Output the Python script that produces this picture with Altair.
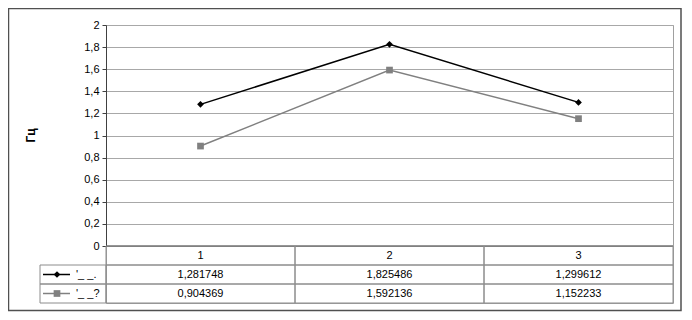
import altair as alt
import pandas as pd

categories = [1, 2, 3]
series_names = ["'_ _.", "'_ _?"]
series1 = [1.281748, 1.825486, 1.299612]
series2 = [0.904369, 1.592136, 1.152233]
series1_labels = ["1,281748", "1,825486", "1,299612"]
series2_labels = ["0,904369", "1,592136", "1,152233"]
y_ticks = [0, 0.2, 0.4, 0.6, 0.8, 1.0, 1.2, 1.4, 1.6, 1.8, 2.0]
y_title = "Гц"
colors = ["#000000", "#808080"]
shapes = ["diamond", "square"]
row_keys = ["hdr", "s1", "s2"]

FONT = "Liberation Sans"

# long data for lines
rows = []
for name, vals in zip(series_names, [series1, series2]):
    for c, v in zip(categories, vals):
        rows.append({"series": name, "cat": c, "value": v})
line_df = pd.DataFrame(rows)

# table cells
cells = []
for c in categories:
    cells.append({"row": "hdr", "x0": c - 0.5, "x1": c + 0.5, "xc": c, "txt": str(c)})
for rk, labels in zip(["s1", "s2"], [series1_labels, series2_labels]):
    for c, t in zip(categories, labels):
        cells.append({"row": rk, "x0": c - 0.5, "x1": c + 0.5, "xc": c, "txt": t})
cell_df = pd.DataFrame(cells)

legend_df = pd.DataFrame({"row": ["s1", "s2"], "series": series_names})

xscale = alt.Scale(domain=[0.5, 3.5], nice=False, zero=False)
yscale = alt.Scale(domain=[0, 2], range=[221, 0], nice=False, zero=False)
rowscale = alt.Scale(domain=row_keys, range=[221, 278], paddingInner=0, paddingOuter=0)
cscale = alt.Scale(domain=series_names, range=colors)
sscale = alt.Scale(domain=series_names, range=shapes)

yaxis = alt.Axis(
    values=y_ticks,
    labelExpr="replace(format(datum.value, '.1~f'), '.', ',')",
    labelOverlap=False,
    title=y_title,
    titleFont=FONT, titleFontSize=12, titleFontWeight="bold", titleColor="#000",
    titleX=-76, titleY=110, titleAlign="center", titleBaseline="middle", titleAngle=270,
    labelFont=FONT, labelFontSize=11, labelColor="#000", labelPadding=3,
    tickSize=4, tickColor="#404040", domainColor="#404040",
    gridColor="#a8a8a8", grid=True,
)

base_line = alt.Chart(line_df).encode(
    x=alt.X("cat:Q", scale=xscale, axis=None),
    y=alt.Y("value:Q", scale=yscale, axis=yaxis),
    color=alt.Color("series:N", scale=cscale, legend=None),
    detail="series:N",
)
zero_rule = alt.Chart(pd.DataFrame({"value": [0]})).mark_rule(
    color="#404040", strokeWidth=1
).encode(y=alt.Y("value:Q", scale=yscale, axis=yaxis))
lines = base_line.mark_line(strokeWidth=1.5)
points = base_line.mark_point(filled=True, opacity=1, size=45).encode(
    shape=alt.Shape("series:N", scale=sscale, legend=None)
)

line_group = alt.layer(zero_rule, lines, points)

cell_rects = alt.Chart(cell_df).mark_rect(
    fill="white", fillOpacity=0, stroke="#8c8c8c", strokeWidth=1
).encode(
    x=alt.X("x0:Q", scale=xscale, axis=None),
    x2="x1:Q",
    y=alt.Y("row:N", scale=rowscale, axis=None),
)
cell_text = alt.Chart(cell_df).mark_text(
    font=FONT, fontSize=11, color="#000", align="center", baseline="middle"
).encode(
    x=alt.X("xc:Q", scale=xscale, axis=None),
    y=alt.Y("row:N", scale=rowscale, axis=None),
    text="txt:N",
)
leg_rects = alt.Chart(legend_df).mark_rect(
    fill="white", fillOpacity=0, stroke="#8c8c8c", strokeWidth=1
).encode(
    x=alt.value(-66), x2=alt.value(0),
    y=alt.Y("row:N", scale=rowscale, axis=None),
)
leg_lines = alt.Chart(legend_df).mark_rule(strokeWidth=1.5).encode(
    x=alt.value(-63), x2=alt.value(-36),
    y=alt.Y("row:N", scale=rowscale, axis=None),
    color=alt.Color("series:N", scale=cscale, legend=None),
)
leg_pts = alt.Chart(legend_df).mark_point(filled=True, opacity=1, size=45).encode(
    x=alt.value(-49),
    y=alt.Y("row:N", scale=rowscale, axis=None),
    color=alt.Color("series:N", scale=cscale, legend=None),
    shape=alt.Shape("series:N", scale=sscale, legend=None),
)
leg_text = alt.Chart(legend_df).mark_text(
    font=FONT, fontSize=11, color="#000", align="left", baseline="middle"
).encode(
    x=alt.value(-30),
    y=alt.Y("row:N", scale=rowscale, axis=None),
    text="series:N",
)
table_group = alt.layer(cell_rects, cell_text, leg_rects, leg_lines, leg_pts, leg_text)

frame = alt.Chart(pd.DataFrame({"a": [0]})).mark_rect(
    fill="white", fillOpacity=0, stroke="#505050", strokeWidth=1.5
).encode(
    x=alt.value(-97.5), x2=alt.value(575), y=alt.value(-16.5), y2=alt.value(285.5)
)

chart = alt.layer(line_group, table_group, frame).resolve_scale(
    y="independent"
).properties(
    width=567,
    height=278,
    autosize=alt.AutoSizeParams(type="none"),
    padding={"left": 98, "top": 17, "right": 9, "bottom": 9},
    background="white",
).configure_view(stroke="#a0a0a0", strokeWidth=1)

chart.save("out.html", embed_options={"renderer": "svg", "actions": False})
